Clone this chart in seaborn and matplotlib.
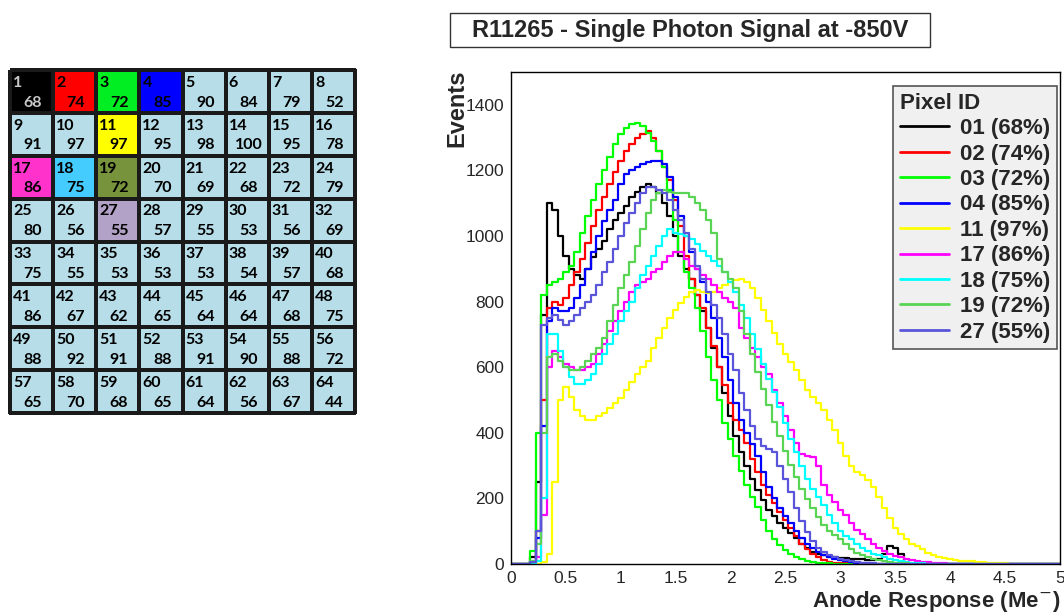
import numpy as np
import pandas as pd
import matplotlib
matplotlib.use("Agg")
import matplotlib.pyplot as plt
from matplotlib.colors import ListedColormap
from matplotlib.ticker import MultipleLocator, FuncFormatter
import seaborn as sns

# efficiency (%) of the 64 anode pixels, row by row (pixel 1 top-left)
pixel_eff = [68, 74, 72, 85, 90, 84, 79, 52,
             91, 97, 97, 95, 98, 100, 95, 78,
             86, 75, 72, 70, 69, 68, 72, 79,
             80, 56, 55, 57, 55, 53, 56, 69,
             75, 55, 53, 53, 53, 54, 57, 68,
             86, 67, 62, 65, 64, 64, 68, 75,
             88, 92, 91, 88, 91, 90, 88, 72,
             65, 70, 68, 65, 64, 56, 67, 44]

# pixels shown in the spectrum plot
shown_pixels = [1, 2, 3, 4, 11, 17, 18, 19, 27]
line_colors = ["#000000", "#ff0000", "#00ff00", "#0000ff", "#ffff00",
               "#ff00ff", "#00ffff", "#59d454", "#5954d9"]
cell_colors = ["#000000", "#ff0000", "#00ee22", "#0000ff", "#ffff00",
               "#ff33cc", "#44ccff", "#77933c", "#b3a2c7"]
default_cell = "#b7dde8"

# spectra: events per 0.05 Me- bin, first bin at 0.15 Me-
bin_width = 0.05
first_bin = 0.15
pix01 = [0, 20, 250, 760, 1100, 1080, 1000, 940, 900, 880, 870, 900, 935, 960, 985, 1020, 1050, 1070,
         1090, 1120, 1135, 1150, 1160, 1150, 1130, 1100, 1060, 1000, 940, 900, 870, 820, 770, 720,
         660, 600, 520, 450, 390, 340, 300, 260, 225, 195, 165, 145, 125, 110, 95, 80, 62, 48, 38,
         30, 26, 22, 20, 18, 17, 16, 15, 14, 13, 12, 14, 30, 55, 50, 30]
pix02 = [0, 5, 100, 500, 780, 800, 790, 810, 850, 890, 930, 980, 1030, 1080, 1120, 1160, 1195, 1230,
         1260, 1280, 1300, 1310, 1320, 1300, 1260, 1210, 1170, 1110, 1030, 940, 870, 820, 780, 720,
         665, 600, 545, 490, 440, 410, 370, 320, 280, 240, 210, 185, 160, 135, 110, 85, 62, 46, 32,
         20, 12, 7, 4, 3, 2, 1]
pix03 = [0, 40, 400, 820, 850, 860, 870, 890, 910, 950, 1010, 1060, 1110, 1160, 1200, 1240, 1280,
         1310, 1330, 1340, 1345, 1335, 1315, 1290, 1260, 1210, 1140, 1050, 950, 890, 840, 780, 710,
         630, 560, 500, 430, 380, 330, 285, 240, 205, 175, 135, 100, 76, 58, 42, 32, 22, 15, 9, 6,
         4, 3, 2, 1]
pix04 = [0, 5, 80, 420, 740, 780, 770, 770, 780, 810, 850, 900, 950, 1000, 1045, 1080, 1110, 1160,
         1190, 1200, 1210, 1220, 1225, 1230, 1230, 1220, 1180, 1120, 1060, 1000, 950, 900, 860, 800,
         750, 690, 630, 560, 490, 440, 400, 365, 330, 280, 235, 200, 170, 145, 125, 100, 80, 62, 50,
         38, 28, 20, 15, 11, 8, 6, 4, 3, 2, 1]
pix11 = [0, 0, 0, 5, 30, 250, 500, 540, 510, 470, 450, 440, 440, 450, 460, 475, 490, 505, 530, 555,
         580, 600, 620, 660, 690, 720, 750, 775, 795, 815, 830, 835, 830, 825, 830, 840, 850, 860,
         865, 870, 860, 840, 810, 775, 740, 705, 670, 640, 615, 590, 560, 530, 510, 490, 470, 440,
         410, 370, 330, 300, 280, 270, 255, 235, 205, 170, 140, 110, 90, 75, 62, 55, 45, 35, 28, 22,
         18, 14, 12, 10, 9, 8, 6, 5, 4, 3, 2, 2, 1]
pix17 = [0, 0, 20, 150, 600, 650, 630, 610, 600, 590, 590, 600, 610, 640, 670, 710, 740, 770, 800,
         830, 850, 860, 870, 890, 900, 920, 940, 950, 950, 930, 910, 900, 880, 870, 850, 830, 810,
         800, 780, 720, 690, 660, 630, 600, 580, 530, 490, 450, 410, 370, 335, 330, 325, 300, 240,
         210, 190, 165, 150, 125, 105, 90, 75, 60, 50, 40, 32, 25, 20, 15, 12, 9, 7, 5, 4, 3, 2, 1]
pix18 = [0, 0, 10, 200, 700, 700, 650, 600, 570, 550, 550, 560, 580, 610, 640, 670, 700, 740, 770,
         800, 840, 880, 910, 940, 970, 1000, 1020, 1010, 1005, 1000, 990, 975, 955, 940, 925, 910,
         890, 860, 830, 790, 750, 700, 655, 610, 565, 524, 480, 430, 381, 340, 300, 260, 230, 205,
         180, 150, 125, 100, 85, 75, 60, 48, 40, 32, 26, 20, 16, 12, 9, 6, 4, 3, 2, 1]
pix19 = [0, 10, 60, 400, 630, 640, 620, 600, 590, 590, 600, 620, 640, 660, 690, 740, 790, 840, 880,
         920, 970, 1020, 1070, 1110, 1130, 1140, 1135, 1130, 1130, 1130, 1120, 1100, 1080, 1050,
         1010, 930, 890, 870, 840, 770, 700, 640, 585, 535, 485, 433, 390, 345, 302, 265, 230, 198,
         170, 143, 119, 100, 88, 76, 60, 45, 34, 26, 20, 15, 11, 8, 6, 4, 3, 2, 1]
pix27 = [0, 5, 100, 730, 750, 760, 745, 730, 740, 760, 780, 800, 820, 850, 890, 920, 960, 1000,
         1040, 1070, 1100, 1130, 1150, 1150, 1140, 1130, 1110, 1080, 1050, 1010, 960, 910, 870, 830,
         790, 750, 700, 640, 590, 520, 470, 420, 380, 360, 350, 340, 300, 260, 220, 170, 130, 98,
         70, 50, 37, 27, 20, 15, 11, 8, 6, 4, 3, 2, 1]
spectra = [pix01, pix02, pix03, pix04, pix11, pix17, pix18, pix19, pix27]

sns.set_style("white")
plt.rcParams["font.family"] = ["Liberation Sans", "DejaVu Sans"]

fig = plt.figure(figsize=(10.64, 6.12), dpi=100)
W, H = 1064, 612

# ---- left: pixel map ----
ax_map = fig.add_axes([10 / W, 1 - 413 / H, 345 / W, 343 / H])
cat = np.zeros(64, dtype=int)
for i, p in enumerate(shown_pixels):
    cat[p - 1] = i + 1
grid = cat.reshape(8, 8)
cmap = ListedColormap([default_cell] + cell_colors)
sns.heatmap(grid, ax=ax_map, cmap=cmap, vmin=-0.5, vmax=9.5, cbar=False,
            linewidths=1.5, linecolor="#1a1a1a", xticklabels=False, yticklabels=False)
ax_map.collections[0].set_clip_on(False)
for r in range(8):
    for c in range(8):
        n = r * 8 + c + 1
        col = "#c8c8c8" if n == 1 else "black"
        ax_map.text(c + 0.07, r + 0.3, str(n), ha="left", va="center", fontsize=11.5,
                    fontweight="bold", color=col, family=["Lato", "DejaVu Sans"])
        ax_map.text(c + 0.53, r + 0.76, str(pixel_eff[n - 1]), ha="center", va="center",
                    fontsize=11.5, fontweight="bold", color=col, family=["Lato", "DejaVu Sans"])

# ---- right: single photon spectra ----
ax = fig.add_axes([511 / W, 1 - 564 / H, 549 / W, 492 / H])
n_bins = int(round(5.0 / bin_width)) + 1
x_all = np.round(np.arange(n_bins) * bin_width, 2)
offset = int(round(first_bin / bin_width))
labels = [f"{p:02d} ({pixel_eff[p - 1]}%)" for p in shown_pixels]
rows = []
for lab, vals in zip(labels, spectra):
    full = np.zeros(n_bins)
    full[offset:offset + len(vals)] = vals
    rows.append(pd.DataFrame({"x": x_all, "events": full, "pixel": lab}))
df = pd.concat(rows, ignore_index=True)

sns.lineplot(data=df, x="x", y="events", hue="pixel", hue_order=labels,
             palette=line_colors, estimator=None, drawstyle="steps-mid",
             linewidth=1.6, legend=False, ax=ax)

ax.set_xlim(0, 5)
ax.set_ylim(0, 1500)
ax.xaxis.set_major_locator(MultipleLocator(0.5))
ax.xaxis.set_minor_locator(MultipleLocator(0.1))
ax.yaxis.set_major_locator(MultipleLocator(200))
ax.yaxis.set_minor_locator(MultipleLocator(50))
ax.xaxis.set_major_formatter(FuncFormatter(lambda v, _: f"{v:g}"))
ax.tick_params(axis="both", which="both", direction="in", top=False, right=False,
               labelsize=12.5, color="black", width=1)
ax.tick_params(axis="x", which="major", length=9.5, pad=5)
ax.tick_params(axis="x", which="minor", length=5)
ax.tick_params(axis="y", which="major", length=12, pad=5)
ax.tick_params(axis="y", which="minor", length=6)
for s in ax.spines.values():
    s.set_color("black")
    s.set_linewidth(1)

ax.set_xlabel("Anode Response (Me$^{-}$)", fontsize=16, fontweight="bold", loc="right")
ax.xaxis.set_label_coords(1.0, -0.05)
ax.set_ylabel("Events", fontsize=17, fontweight="bold", loc="top")
ax.yaxis.set_label_coords(-0.078, 1.005)

handles = ax.get_lines()[:len(labels)]
leg = ax.legend(handles, labels, loc="upper right", bbox_to_anchor=(0.9945, 0.9715),
                borderaxespad=0, title="Pixel ID", alignment="left",
                prop={"weight": "bold", "size": 16},
                title_fontproperties={"weight": "bold", "size": 16},
                frameon=True, fancybox=False, facecolor="#f0f0f0", edgecolor="#555555",
                framealpha=1, handlelength=2.2, handletextpad=0.5, labelspacing=0.2,
                borderpad=0.3)
leg.get_frame().set_linewidth(1.2)
for h in leg.get_lines():
    h.set_linewidth(2)

# title box
fig.add_artist(plt.Rectangle((450 / W, 1 - 47 / H), 480 / W, 34 / H, transform=fig.transFigure,
                             fill=False, edgecolor="#333333", linewidth=1))
fig.text(690 / W, 1 - 30 / H, "R11265 - Single Photon Signal at -850V", ha="center",
         va="center", fontsize=17, fontweight="bold")

fig.savefig("out.png", dpi=100)
